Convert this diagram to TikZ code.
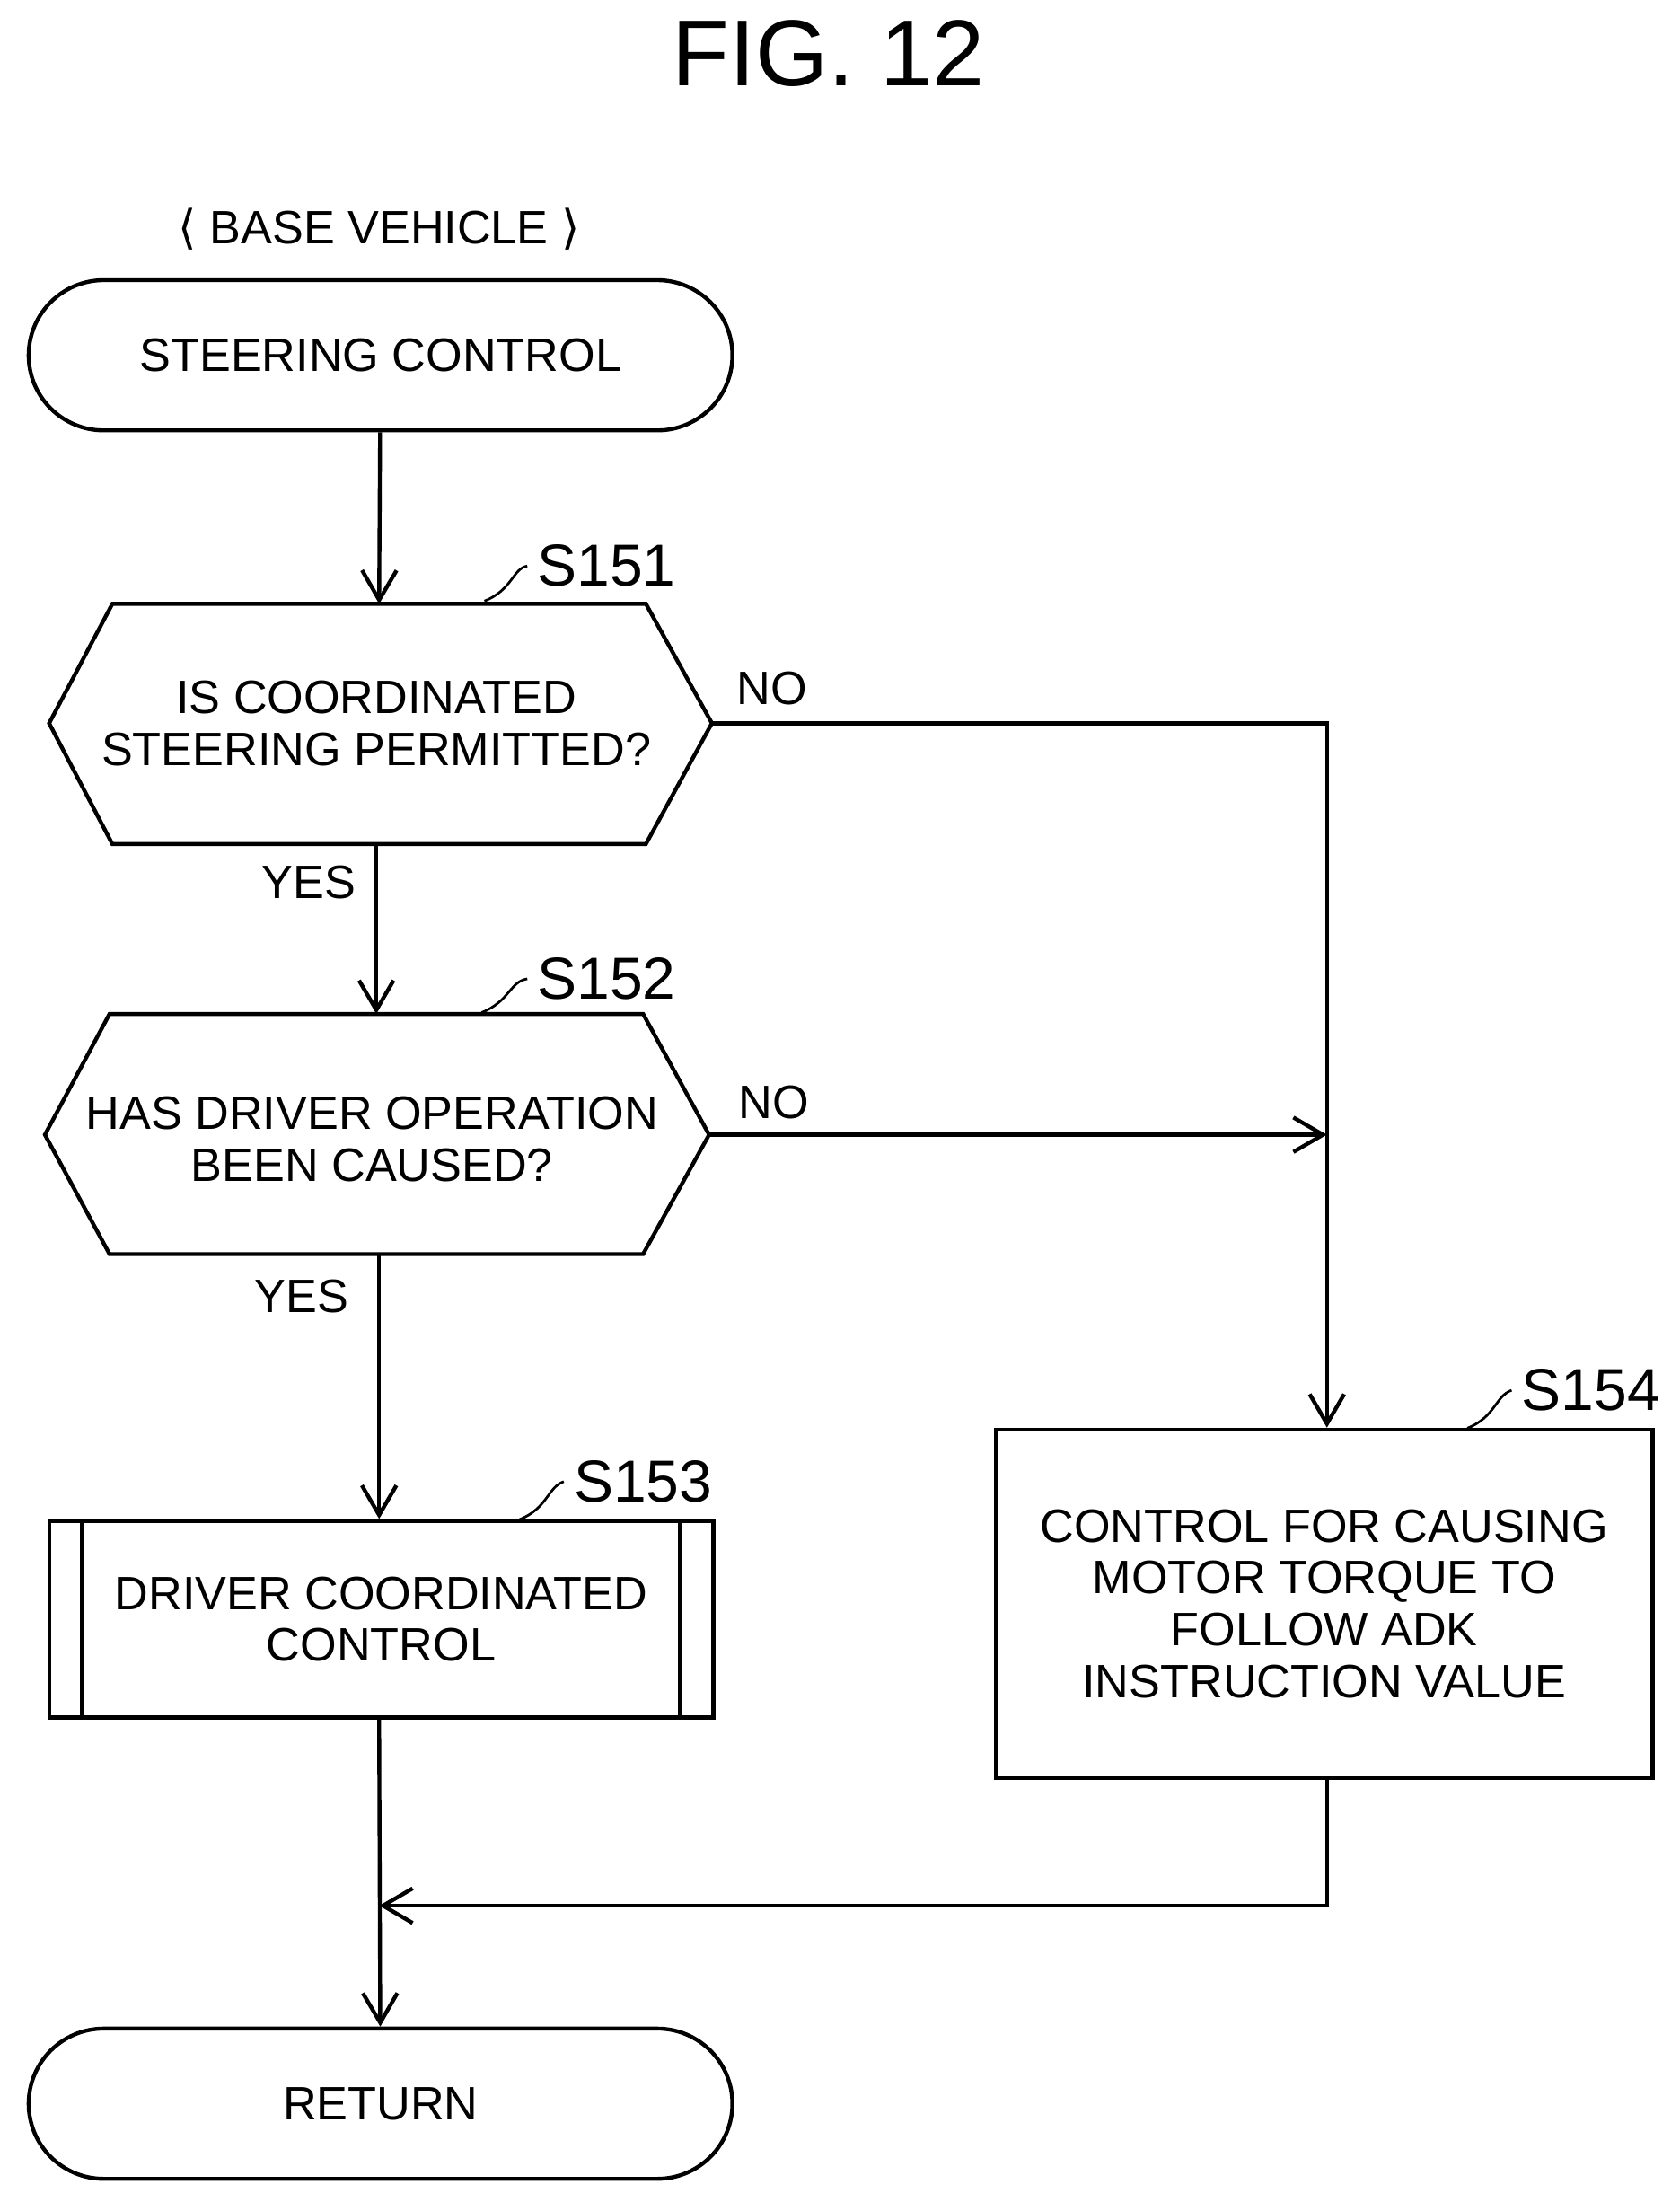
\documentclass[tikz,border=0pt]{standalone}
\usepackage{fontspec}
\setmainfont{Liberation Sans}
\newfontfamily\djvfont{DejaVu Sans}
\usetikzlibrary{arrows.meta,shapes.misc}
\begin{document}
\begin{tikzpicture}[x=0.02cm,y=-0.02cm,line width=1.6pt,
  txt/.style={font=\fontsize{19pt}{21pt}\selectfont,align=center},
  lbl/.style={font=\fontsize{24pt}{26pt}\selectfont},
  arr/.style={-{Straight Barb[length=12pt,width=14pt,line width=1.6pt]}},
  term/.style={rounded rectangle,draw,minimum width=10.26cm,minimum height=2.14cm,txt}]
\useasboundingbox (0,0) rectangle (1196,1568);
\node[font=\fontsize{38pt}{40pt}\selectfont] (title) at (590,38) {FIG. 12};
\node[txt] (base) at (270,163) {{\djvfont ⟨} BASE VEHICLE {\djvfont ⟩}};
\node[term] (start) at (271,253) {STEERING CONTROL};
\node[term] (ret) at (271,1498) {RETURN};
% hexagons
\draw (80,430) -- (460,430) -- (507,515) -- (460,601) -- (80,601) -- (35,515) -- cycle;
\node[txt] (q1) at (268,515) {IS COORDINATED\\STEERING PERMITTED?};
\coordinate (q1t) at (270,430); \coordinate (q1b) at (268,601); \coordinate (q1r) at (507,515);
\draw (78,722) -- (458,722) -- (505,808) -- (458,893) -- (78,893) -- (32,808) -- cycle;
\node[txt] (q2) at (265,811) {HAS DRIVER OPERATION\\BEEN CAUSED?};
\coordinate (q2t) at (268,722); \coordinate (q2b) at (270,893); \coordinate (q2r) at (505,808);
% S153
\node[draw,minimum width=9.46cm,minimum height=2.8cm,txt] (p3) at (271.5,1153) {DRIVER COORDINATED\\CONTROL};
\draw (58,1083) -- (58,1223) (484,1083) -- (484,1223);
% S154
\node[draw,minimum width=9.36cm,minimum height=4.96cm,txt] (p4) at (943,1142) {CONTROL FOR CAUSING\\MOTOR TORQUE TO\\FOLLOW ADK\\INSTRUCTION VALUE};
% step labels
\node[lbl] (s1) at (432,403) {S151};
\node[lbl] (s2) at (432,697) {S152};
\node[lbl] (s3) at (458,1055) {S153};
\node[lbl] (s4) at (1133,990) {S154};
\draw[line width=1pt] (345,428) .. controls (365,420) and (365,405) .. (s1.west);
\draw[line width=1pt] (343,721) .. controls (363,713) and (363,699) .. (s2.west);
\draw[line width=1pt] (370,1082) .. controls (390,1074) and (390,1059) .. (s3.west);
\draw[line width=1pt] (1045,1017) .. controls (1065,1009) and (1065,994) .. (s4.west);
% labels
\node[txt] (n1) at (550,490) {NO};
\node[txt] (n2) at (551,785) {NO};
\node[txt] (y1) at (220,628) {YES};
\node[txt] (y2) at (215,923) {YES};
% connectors
\draw[arr] (start) -- (q1t);
\draw[arr] (q1b) -- (q2t);
\draw[arr] (q2b) -- (p3.north -| q2b);
\draw[arr] (q1r) -- (945,515) -- (p4.north -| 945,0);
\draw[arr] (q2r) -- (945,808);
\coordinate (j) at (270,1357);
\draw[arr] (p4.south -| 945,0) -- (945,1357) -- (j);
\draw[arr] (p3.south -| j) -- (ret);
\end{tikzpicture}
\end{document}
